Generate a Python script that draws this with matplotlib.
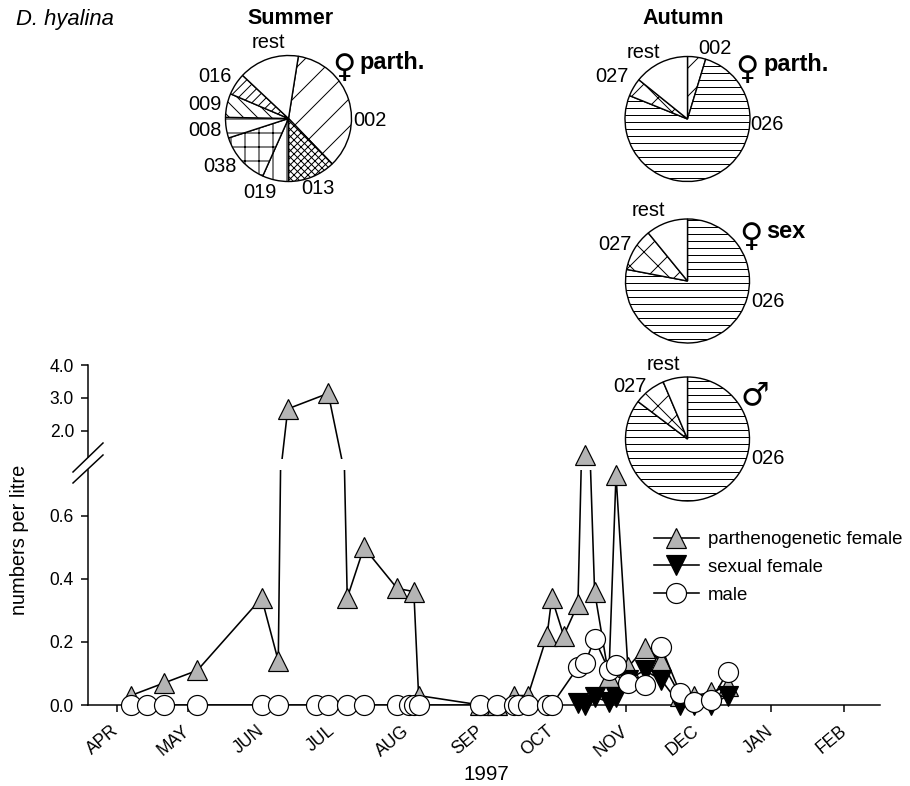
import numpy as np
import pandas as pd
import matplotlib
matplotlib.use('Agg')
import matplotlib.pyplot as plt
from matplotlib.lines import Line2D

# ---------------- data ----------------
parth_dates = ['1997-04-07', '1997-04-21', '1997-05-05', '1997-06-01', '1997-06-08',
               '1997-06-12', '1997-06-29', '1997-07-07', '1997-07-14', '1997-07-28',
               '1997-08-04', '1997-08-06', '1997-09-01', '1997-09-08', '1997-09-15',
               '1997-09-21', '1997-09-29', '1997-10-01', '1997-10-06', '1997-10-12',
               '1997-10-15', '1997-10-19', '1997-10-25', '1997-10-28', '1997-11-02',
               '1997-11-09', '1997-11-16', '1997-11-24', '1997-11-30', '1997-12-07',
               '1997-12-14']
parth_vals = [0.03, 0.07, 0.11, 0.34, 0.14,
              2.67, 3.14, 0.34, 0.50, 0.37,
              0.36, 0.03, 0.0, 0.0, 0.03,
              0.03, 0.22, 0.34, 0.22, 0.32,
              1.27, 0.36, 0.09, 0.73, 0.12,
              0.18, 0.14, 0.03, 0.03, 0.04,
              0.06]

sexual_dates = ['1997-10-12', '1997-10-15', '1997-10-19', '1997-10-25', '1997-10-28',
                '1997-11-02', '1997-11-09', '1997-11-16', '1997-11-24', '1997-11-30',
                '1997-12-07', '1997-12-14']
sexual_vals = [0.005, 0.0, 0.025, 0.01, 0.025,
               0.08, 0.11, 0.08, 0.0, 0.0,
               0.0, 0.03]

male_dates = ['1997-04-07', '1997-04-14', '1997-04-21', '1997-05-05', '1997-06-01',
              '1997-06-08', '1997-06-24', '1997-06-29', '1997-07-07', '1997-07-14',
              '1997-07-28', '1997-08-02', '1997-08-04', '1997-08-06', '1997-09-01',
              '1997-09-08', '1997-09-15', '1997-09-17', '1997-09-21', '1997-09-29',
              '1997-10-01', '1997-10-12', '1997-10-15', '1997-10-19', '1997-10-25',
              '1997-10-28', '1997-11-02', '1997-11-09', '1997-11-16', '1997-11-24',
              '1997-11-30', '1997-12-07', '1997-12-14']
male_vals = [0.0, 0.0, 0.0, 0.0, 0.0,
             0.0, 0.0, 0.0, 0.0, 0.0,
             0.0, 0.0, 0.0, 0.0, 0.0,
             0.0, 0.0, 0.0, 0.0, 0.0,
             0.0, 0.12, 0.133, 0.21, 0.11,
             0.127, 0.07, 0.063, 0.185, 0.037,
             0.01, 0.015, 0.105]

month_starts = ['1997-04-01', '1997-05-01', '1997-06-01', '1997-07-01', '1997-08-01',
                '1997-09-01', '1997-10-01', '1997-11-01', '1997-12-01', '1998-01-01',
                '1998-02-01']
month_labels = ['APR', 'MAY', 'JUN', 'JUL', 'AUG', 'SEP', 'OCT', 'NOV', 'DEC', 'JAN', 'FEB']
y_low_ticks = [0.0, 0.2, 0.4, 0.6]
y_high_ticks = [2.0, 3.0, 4.0]

series_names = ['parthenogenetic female', 'sexual female', 'male']

summer_labels = ['002', '013', '019', '038', '008', '009', '016', 'rest']
summer_parth = [35.3, 12.2, 6.7, 13.3, 5.3, 6.1, 5.6, 15.5]

autumn_parth_labels = ['002', '026', '027', 'rest']
autumn_parth = [4.7, 76.4, 4.7, 14.2]
autumn_sex_labels = ['026', '027', 'rest']
autumn_sex = [78.0, 11.1, 10.9]
autumn_male_labels = ['026', '027', 'rest']
autumn_male = [85.3, 8.3, 6.4]

# ---------------- styling / layout ----------------
W, H, DPI = 910, 786, 84
def fx(px): return px / W
def fy(py): return 1 - py / H
def P(px): return px * 72.0 / DPI

plt.rcParams['font.family'] = ['Liberation Sans', 'DejaVu Sans']
plt.rcParams['hatch.linewidth'] = P(1.0)

LW = P(1.6)
MS = P(20)
MEW = P(1.2)
GREY = '#b4b4b4'

fig = plt.figure(figsize=(W / DPI, H / DPI), dpi=DPI)

ax_bot = fig.add_axes([fx(88), fy(705), fx(880) - fx(88), (705 - 470) / H])
ax_top = fig.add_axes([fx(88), fy(459), fx(880) - fx(88), (459 - 365) / H])
for ax in (ax_bot, ax_top):
    ax.patch.set_visible(False)

pd_parth = pd.to_datetime(parth_dates); pv = np.array(parth_vals)
pd_sex = pd.to_datetime(sexual_dates); sv = np.array(sexual_vals)
pd_male = pd.to_datetime(male_dates); mv = np.array(male_vals)

series = [
    (pd_parth, pv, dict(marker='^', mfc=GREY)),
    (pd_sex, sv, dict(marker='v', mfc='black')),
    (pd_male, mv, dict(marker='o', mfc='white')),
]
z = 2
for d, v, st in series:
    for ax in (ax_bot, ax_top):
        ax.plot(d, v, color='black', lw=LW, zorder=z)
    low = v < 1.0
    ax_bot.plot(d[low], v[low], ls='none', ms=MS, mec='black', mew=MEW,
                clip_on=False, zorder=z + 1, **st)
    if (~low).any():
        ax_top.plot(d[~low], v[~low], ls='none', ms=MS, mec='black', mew=MEW,
                    clip_on=False, zorder=z + 1, **st)
    z += 2

xmin, xmax = pd.Timestamp('1997-03-20'), pd.Timestamp('1998-02-16')
for ax in (ax_bot, ax_top):
    ax.set_xlim(xmin, xmax)
    ax.spines['top'].set_visible(False)
    ax.spines['right'].set_visible(False)
    ax.spines['left'].set_linewidth(P(1.5))
    ax.tick_params(axis='y', direction='out', length=P(7), width=P(1.5),
                   labelsize=P(17.5), pad=P(7))

ax_bot.set_ylim(0, 0.746)
ax_bot.spines['left'].set_bounds(0, 0.746)
ax_bot.spines['bottom'].set_linewidth(P(1.5))
ax_bot.set_yticks(y_low_ticks)
ax_bot.set_yticklabels(['%.1f' % t for t in y_low_ticks])
ax_bot.set_xticks(pd.to_datetime(month_starts))
ax_bot.set_xticklabels(month_labels, rotation=40, ha='right', va='center',
                       rotation_mode='anchor')
ax_bot.tick_params(axis='x', direction='out', length=P(7), width=P(1.5),
                   labelsize=P(17.5), pad=P(17))

ax_top.set_ylim(1.15, 4.0)
ax_top.spines['left'].set_bounds(1.2, 4.0)
ax_top.spines['bottom'].set_visible(False)
ax_top.set_xticks([])
ax_top.set_yticks(y_high_ticks)
ax_top.set_yticklabels(['%.1f' % t for t in y_high_ticks])

# axis break marks
for (x0, y0, x1, y1) in [(73, 472, 103, 443), (73, 483, 103, 455)]:
    fig.add_artist(Line2D([fx(x0), fx(x1)], [fy(y0), fy(y1)], color='black',
                          lw=P(1.5), transform=fig.transFigure))

fig.text(fx(20), fy(540), 'numbers per litre', rotation=90, ha='center', va='center',
         fontsize=P(20))
fig.text(fx(486), fy(774), '1997', ha='center', va='center', fontsize=P(20.5))
fig.text(fx(16), fy(19), 'D. hyalina', ha='left', va='center', fontsize=P(22),
         style='italic')

# legend
handles = [Line2D([], [], color='black', lw=LW, marker=st['marker'], ms=MS,
                  mfc=st['mfc'], mec='black', mew=MEW) for _, _, st in series]
fig.legend(handles, series_names, loc='upper left',
           bbox_to_anchor=(fx(654), fy(531)), frameon=False, fontsize=P(18.7),
           handlelength=2.4, handletextpad=0.5, labelspacing=0.58, borderpad=0,
           borderaxespad=0, numpoints=1)

# pies
def draw_pie(cx, cy, r, vals, hatches, start_cw):
    s = 1.1
    ax = fig.add_axes([fx(cx - r * s), fy(cy + r * s), 2 * r * s / W, 2 * r * s / H])
    wedges, _ = ax.pie(vals, startangle=90 - start_cw, counterclock=False, radius=1,
                       colors=['white'] * len(vals),
                       wedgeprops=dict(edgecolor='black', linewidth=P(1.4)))
    for w, h in zip(wedges, hatches):
        if h:
            w.set_hatch(h)
    ax.set_xlim(-s, s)
    ax.set_ylim(-s, s)
    ax.set_aspect('equal')
    ax.axis('off')
    return ax

draw_pie(288.5, 118.5, 63, summer_parth,
         ['/', 'xxxx', '|', '+', '-', '\\\\', '///', ''], 9)
draw_pie(687.5, 119, 62.5, autumn_parth, ['/', '--', 'x', ''], 0)
draw_pie(687.5, 281, 62, autumn_sex, ['--', 'x', ''], 0)
draw_pie(687.5, 439, 62, autumn_male, ['--', 'x', ''], 0)

LF = P(20)
def lab(x, y, t, **kw):
    kw.setdefault('fontsize', LF)
    fig.text(fx(x), fy(y), t, ha=kw.pop('ha', 'center'), va='center', **kw)

lab(290, 18, 'Summer', fontweight='bold', fontsize=P(21.5))
lab(683, 18, 'Autumn', fontweight='bold', fontsize=P(21.5))

summer_pos = {'002': (370, 120), '013': (318, 188), '019': (260, 192), '038': (220, 167),
              '008': (205, 130), '009': (205, 105), '016': (215, 77), 'rest': (268, 43)}
for l in summer_labels:
    lab(*summer_pos[l], l)
ap_pos = {'002': (715, 49), '026': (767, 124), '027': (612, 77), 'rest': (643, 52)}
for l in autumn_parth_labels:
    lab(*ap_pos[l], l)
as_pos = {'026': (768, 302), '027': (615, 245), 'rest': (648, 210)}
for l in autumn_sex_labels:
    lab(*as_pos[l], l)
am_pos = {'026': (768, 458), '027': (630, 387), 'rest': (663, 365)}
for l in autumn_male_labels:
    lab(*am_pos[l], l)

SYM = P(32)
SYMF = ['DejaVu Sans']
lab(344, 68, '\u2640', fontsize=SYM, family=SYMF)
lab(359, 63, 'parth.', ha='left', fontweight='bold', fontsize=P(23.5))
lab(747, 70, '\u2640', fontsize=SYM, family=SYMF)
lab(763, 65, 'parth.', ha='left', fontweight='bold', fontsize=P(23.5))
lab(751, 237, '\u2640', fontsize=SYM, family=SYMF)
lab(766, 231, 'sex', ha='left', fontweight='bold', fontsize=P(23.5))
lab(755, 396, '\u2642', fontsize=SYM, family=SYMF)

fig.savefig('out.png', dpi=DPI)
